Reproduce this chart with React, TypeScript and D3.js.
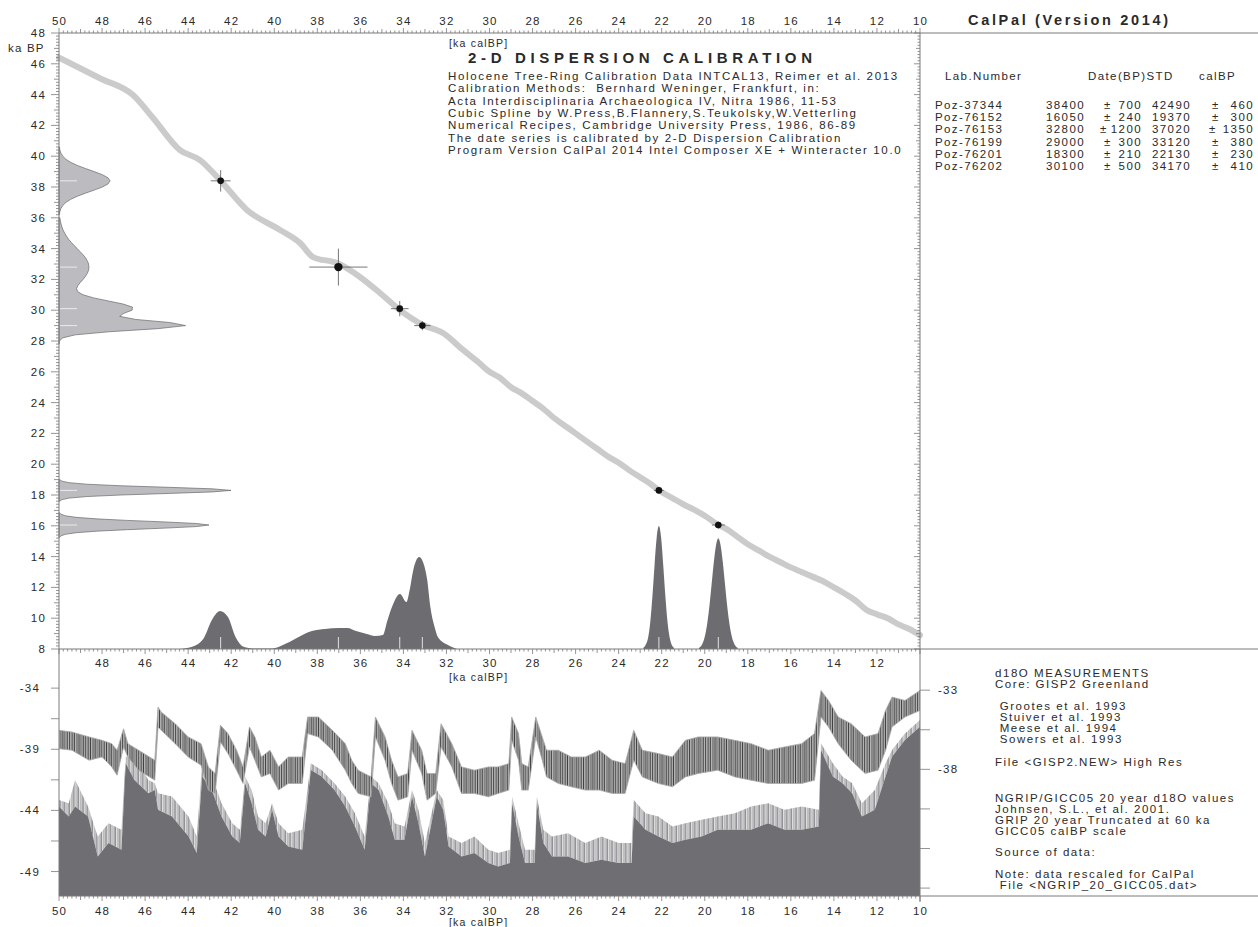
import React from "react";
import * as d3 from "d3";

// radiocarbon dates (table on the right)
const labNumbers = ["Poz-37344", "Poz-76152", "Poz-76153", "Poz-76199", "Poz-76201", "Poz-76202"];
const c14Dates = [38400, 16050, 32800, 29000, 18300, 30100];
const c14Std = [700, 240, 1200, 300, 210, 500];
const calDates = [42490, 19370, 37020, 33120, 22130, 34170];
const calStd = [460, 300, 1350, 380, 230, 410];

// calibration curve, cal ka vs 14C ka
const curveCal = [50, 48.1, 46.56, 45.63, 44.38, 43.45, 42.52, 41.27, 39.73, 38.8, 38.2, 37.08, 36.02, 35.09, 34.16, 33.09, 32.16, 31.23, 30.5, 30, 29.5, 29, 28.5, 28, 27.5, 27, 26.5, 26, 25.5, 25, 24.5, 24, 23.5, 23, 22.5, 22.13, 21.5, 21, 20.5, 20, 19.37, 19, 18.5, 18, 17.5, 17, 16.5, 16, 15.5, 15, 14.5, 14, 13.5, 13, 12.5, 12, 11.5, 11, 10.5, 10];
const curveC14 = [46.4, 45.06, 43.97, 42.48, 40.4, 39.75, 38.45, 36.51, 35.21, 34.36, 33.45, 33.06, 32.16, 31.12, 30.01, 29.04, 28.52, 27.42, 26.6, 26.0, 25.6, 25.0, 24.6, 24.1, 23.6, 23.0, 22.5, 22.0, 21.5, 21.0, 20.5, 20.1, 19.6, 19.15, 18.7, 18.3, 17.8, 17.4, 17.05, 16.65, 16.05, 15.8, 15.3, 14.8, 14.4, 14.0, 13.65, 13.3, 13.0, 12.7, 12.4, 12.0, 11.6, 11.15, 10.55, 10.25, 10.0, 9.6, 9.3, 8.9];

// 14C probability distributions on the left axis (14C ka, relative density)
const leftAgesA = [40.6, 40.4, 40.2, 40.0, 39.8, 39.6, 39.4, 39.2, 39.0, 38.8, 38.6, 38.4, 38.2, 38.0, 37.8, 37.6, 37.4, 37.2, 37.0, 36.8, 36.6, 36.4, 36.2];
const leftDensA = [0.002, 0.005, 0.011, 0.022, 0.04, 0.068, 0.107, 0.154, 0.205, 0.252, 0.285, 0.297, 0.285, 0.252, 0.205, 0.154, 0.107, 0.068, 0.04, 0.022, 0.011, 0.005, 0.002];
const leftAgesB = [36.0, 35.8, 35.6, 35.4, 35.2, 35.0, 34.8, 34.6, 34.4, 34.2, 34.0, 33.8, 33.6, 33.4, 33.2, 33.0, 32.8, 32.6, 32.4, 32.2, 32.0, 31.8, 31.6, 31.4, 31.2, 31.0, 30.8, 30.6, 30.4, 30.2, 30.0, 29.8, 29.6, 29.4, 29.2, 29.0, 28.8, 28.6, 28.4, 28.2, 28.0, 27.8];
const leftDensB = [0.005, 0.008, 0.012, 0.017, 0.024, 0.033, 0.044, 0.056, 0.072, 0.088, 0.106, 0.123, 0.14, 0.154, 0.165, 0.172, 0.174, 0.172, 0.165, 0.154, 0.14, 0.124, 0.11, 0.102, 0.109, 0.14, 0.201, 0.287, 0.373, 0.427, 0.425, 0.377, 0.353, 0.447, 0.644, 0.736, 0.573, 0.291, 0.095, 0.02, 0.003, 0];
const leftAgesC = [19.0, 18.9, 18.8, 18.7, 18.6, 18.5, 18.4, 18.3, 18.2, 18.1, 18.0, 17.9, 17.8, 17.7, 17.6];
const leftDensC = [0.004, 0.017, 0.059, 0.163, 0.36, 0.635, 0.893, 1.0, 0.893, 0.635, 0.36, 0.163, 0.059, 0.017, 0.004];
const leftAgesD = [16.85, 16.75, 16.65, 16.55, 16.45, 16.35, 16.25, 16.15, 16.05, 15.95, 15.85, 15.75, 15.65, 15.55, 15.45, 15.35, 15.25];
const leftDensD = [0.003, 0.012, 0.038, 0.099, 0.217, 0.399, 0.616, 0.799, 0.872, 0.799, 0.616, 0.399, 0.217, 0.099, 0.038, 0.012, 0.003];

// calibrated probability (cal ka, relative density) along the bottom of the upper panel
const calAgesA = [44.4, 43.85, 43.3, 42.87, 42.52, 42.15, 41.8, 41.4, 41.0, 40.1, 39.5, 39.04, 38.6, 38.25, 37.64, 37.0, 36.6, 36.2, 35.7, 35.32, 34.95, 34.75, 34.53, 34.16, 33.86, 33.7, 33.55, 33.27, 33.09, 32.9, 32.74, 32.55, 32.4, 31.93, 31.5];
const calProbA = [0, 0.016, 0.081, 0.244, 0.309, 0.26, 0.098, 0.016, 0.004, 0.004, 0.04, 0.081, 0.122, 0.146, 0.163, 0.171, 0.171, 0.146, 0.122, 0.106, 0.114, 0.228, 0.341, 0.447, 0.382, 0.488, 0.634, 0.748, 0.707, 0.569, 0.333, 0.179, 0.098, 0.033, 0];
const calAgesB = [22.85, 22.75, 22.63, 22.53, 22.43, 22.33, 22.23, 22.13, 22.03, 21.93, 21.83, 21.73, 21.63, 21.53, 21.43];
const calProbB = [0.01, 0.033, 0.094, 0.22, 0.43, 0.685, 0.91, 1.0, 0.91, 0.685, 0.43, 0.22, 0.094, 0.033, 0.01];
const calAgesC = [20.27, 20.17, 20.07, 19.97, 19.87, 19.77, 19.67, 19.57, 19.47, 19.37, 19.27, 19.17, 19.07, 18.97, 18.87, 18.77, 18.67, 18.57, 18.47];
const calProbC = [0.01, 0.025, 0.059, 0.122, 0.225, 0.37, 0.546, 0.72, 0.85, 0.9, 0.85, 0.72, 0.546, 0.37, 0.225, 0.122, 0.059, 0.025, 0.01];

// GISP2 d18O (left axis of lower panel): band envelope
const gispAge = [50.0, 49.4, 48.6, 48.0, 47.55, 47.3, 47.0, 46.8, 46.3, 45.55, 45.4, 45.25, 44.6, 44.0, 43.4, 43.06, 42.75, 42.5, 42.15, 41.75, 41.45, 41.15, 40.9, 40.6, 40.2, 39.8, 39.35, 38.7, 38.45, 37.95, 37.3, 36.7, 36.4, 36.1, 35.5, 35.3, 34.85, 34.55, 34.25, 33.8, 33.6, 33.15, 32.9, 32.5, 32.25, 31.75, 31.3, 30.7, 30.05, 29.6, 29.1, 28.97, 28.65, 28.5, 28.2, 27.85, 27.55, 27.35, 26.8, 26.2, 25.55, 24.9, 24.3, 23.7, 23.3, 22.9, 22.15, 21.5, 20.9, 20.3, 19.4, 18.6, 17.85, 17.05, 16.3, 15.5, 14.9, 14.6, 14.25, 13.8, 13.2, 12.55, 11.95, 11.6, 11.3, 10.7, 10.0];
const gispHi = [-37.45, -37.59, -37.99, -38.27, -38.54, -39.08, -37.32, -38.54, -39.08, -39.9, -35.55, -35.96, -36.91, -37.99, -38.54, -40.44, -40.98, -37.04, -37.72, -39.08, -40.44, -37.18, -37.99, -39.63, -39.08, -40.44, -39.63, -39.63, -36.36, -36.36, -37.45, -38.54, -39.9, -40.71, -41.26, -36.36, -37.99, -39.9, -41.26, -40.98, -37.45, -39.08, -40.98, -40.98, -36.91, -38.54, -40.44, -40.71, -40.44, -40.44, -40.17, -36.36, -37.72, -40.17, -40.44, -36.36, -37.99, -39.08, -39.08, -39.63, -39.63, -39.08, -39.9, -40.17, -37.45, -39.08, -39.35, -39.63, -38.27, -37.99, -37.99, -38.27, -38.54, -39.08, -38.81, -38.54, -37.72, -34.19, -35.01, -36.36, -36.91, -37.99, -37.72, -35.82, -34.73, -35.01, -34.19];
const gispLo = [-38.95, -39.08, -39.9, -39.63, -40.44, -41.12, -38.81, -39.63, -40.71, -41.53, -37.18, -37.45, -38.54, -39.63, -40.3, -42.34, -42.61, -38.4, -39.35, -40.71, -41.8, -38.81, -39.9, -41.26, -40.98, -42.34, -41.8, -41.8, -37.72, -37.99, -39.08, -40.71, -41.8, -42.61, -42.89, -37.99, -39.9, -41.8, -43.16, -42.89, -39.08, -40.98, -43.16, -42.61, -38.81, -40.44, -42.61, -42.61, -42.89, -42.61, -42.34, -38.27, -39.9, -42.34, -42.34, -37.99, -39.9, -41.26, -41.8, -42.07, -42.34, -42.34, -42.61, -42.61, -39.9, -41.26, -41.8, -42.07, -41.26, -40.98, -40.71, -41.26, -41.53, -41.8, -41.8, -41.8, -41.53, -36.36, -37.18, -38.54, -39.9, -40.98, -40.71, -39.08, -37.18, -36.36, -35.82];

// NGRIP/GICC05 d18O (right axis of lower panel): solid top and spike tips
const ngripAge = [50.0, 49.55, 49.25, 48.65, 48.2, 47.7, 47.1, 46.9, 46.5, 45.85, 45.55, 45.4, 44.75, 43.98, 43.6, 43.35, 42.9, 42.45, 41.95, 41.6, 41.35, 41.05, 40.75, 40.4, 40.1, 39.8, 39.35, 38.7, 38.3, 37.8, 37.2, 36.7, 36.25, 35.8, 35.5, 35.15, 34.7, 34.4, 33.95, 33.6, 33.3, 33.0, 32.45, 32.15, 31.9, 31.3, 30.7, 30.05, 29.6, 29.05, 28.95, 28.65, 28.35, 27.9, 27.8, 27.5, 27.1, 26.35, 25.55, 24.8, 24.0, 23.4, 23.3, 22.75, 22.15, 21.5, 20.9, 20.15, 19.4, 18.6, 17.85, 17.05, 16.3, 15.5, 14.7, 14.6, 14.05, 13.6, 13.15, 12.7, 12.1, 11.6, 11.3, 10.7, 10.0];
const ngripLo = [-40.35, -40.98, -40.35, -40.98, -43.5, -42.66, -43.08, -37.62, -38.67, -39.51, -39.3, -40.56, -40.98, -42.24, -43.29, -38.46, -39.3, -40.98, -42.24, -42.66, -38.88, -40.14, -41.82, -42.24, -40.56, -42.24, -42.87, -43.08, -38.04, -38.46, -39.3, -40.35, -41.61, -43.08, -38.88, -39.3, -40.98, -42.45, -42.45, -39.72, -41.4, -43.5, -39.72, -40.56, -42.87, -43.5, -43.29, -43.92, -44.13, -43.92, -40.14, -42.24, -43.92, -43.92, -40.14, -42.66, -43.5, -43.5, -43.92, -43.71, -43.92, -43.92, -40.98, -41.82, -42.24, -42.66, -42.45, -42.24, -41.82, -41.82, -41.82, -41.4, -41.82, -41.82, -41.61, -36.78, -38.46, -38.88, -39.51, -40.98, -40.56, -38.46, -37.2, -36.15, -35.31];
const ngripHi = [-39.93, -40.14, -38.67, -40.35, -42.24, -41.4, -41.82, -37.2, -37.2, -38.67, -38.88, -39.51, -39.72, -40.98, -42.24, -37.62, -38.46, -40.14, -41.4, -41.82, -38.46, -39.3, -40.98, -41.4, -40.14, -41.4, -42.03, -41.82, -37.62, -38.04, -38.88, -39.72, -40.77, -42.24, -38.46, -38.88, -40.14, -41.4, -41.61, -39.3, -40.56, -42.66, -39.3, -39.93, -42.24, -42.66, -42.24, -43.08, -43.29, -43.08, -39.72, -41.4, -43.08, -43.08, -39.72, -41.82, -42.24, -42.03, -42.66, -42.24, -42.66, -42.66, -39.93, -40.77, -40.98, -41.61, -41.4, -41.19, -40.98, -40.77, -40.35, -40.14, -40.56, -40.35, -40.56, -36.36, -37.62, -38.46, -38.88, -40.14, -39.3, -37.62, -36.78, -35.73, -34.89];

// axis labels
const calTickLabels = [50, 48, 46, 44, 42, 40, 38, 36, 34, 32, 30, 28, 26, 24, 22, 20, 18, 16, 14, 12, 10];
const c14TickLabels = [48, 46, 44, 42, 40, 38, 36, 34, 32, 30, 28, 26, 24, 22, 20, 18, 16, 14, 12, 10, 8];
const gispTicks = [-34, -36.5, -39, -41.5, -44, -46.5, -49];
const gispLabels = [-34, -39, -44, -49];
const ngripTicks = [-33, -35.5, -38, -40.5, -43, -45.5];
const ngripLabels = [-33, -38];

const legendLines = [
  "Holocene Tree-Ring Calibration Data INTCAL13, Reimer et al. 2013",
  "Calibration Methods:  Bernhard Weninger, Frankfurt, in:",
  "Acta Interdisciplinaria Archaeologica IV, Nitra 1986, 11-53",
  "Cubic Spline by W.Press,B.Flannery,S.Teukolsky,W.Vetterling",
  "Numerical Recipes, Cambridge University Press, 1986, 86-89",
  "The date series is calibrated by 2-D Dispersion Calibration",
  "Program Version CalPal 2014 Intel Composer XE + Winteracter 10.0",
];
const noteLines: [string, number][] = [
  ["d18O MEASUREMENTS", 677],
  ["Core: GISP2 Greenland", 688],
  [" Grootes et al. 1993", 710],
  [" Stuiver et al. 1993", 721],
  [" Meese et al. 1994", 732],
  [" Sowers et al. 1993", 743],
  ["File <GISP2.NEW> High Res", 766],
  ["NGRIP/GICC05 20 year d18O values", 802],
  ["Johnsen, S.L., et al. 2001.", 813],
  ["GRIP 20 year Truncated at 60 ka", 824],
  ["GICC05 calBP scale", 835],
  ["Source of data:", 856],
  ["Note: data rescaled for CalPal", 878],
  [" File <NGRIP_20_GICC05.dat>", 889],
];

const X0 = 59, X1 = 920, YT = 33, YM = 649, YB = 896;
const FONT = "'Liberation Sans', Arial, sans-serif";
const AXIS = "#7a7a7a";
const TXT = "#2a2a2a";

export default function App() {
  const x = d3.scaleLinear().domain([50, 10]).range([X0, X1]);
  const yC = d3.scaleLinear().domain([48, 8]).range([YT, YM]);
  const yG = d3.scaleLinear().domain([-30.8, -51]).range([YM, YB]);
  const yN = d3.scaleLinear().domain([-30.4, -46]).range([YM, YB]);
  const dL = d3.scaleLinear().domain([0, 1]).range([X0, X0 + 172]);
  const dB = d3.scaleLinear().domain([0, 1]).range([YM, YM - 123]);

  const leftArea = (ages: number[]) =>
    d3.area<number>().y((d, i) => yC(ages[i])).x0(X0).x1((d) => dL(d));
  const calArea = (ages: number[]) =>
    d3.area<number>().x((d, i) => x(ages[i])).y0(YM).y1((d) => dB(d)).curve(d3.curveMonotoneX);

  const curve = d3.line<number>().x((d) => x(d)).y((d, i) => yC(curveC14[i])).curve(d3.curveMonotoneX);
  const gispBand = d3.area<number>().x((d) => x(d)).y0((d, i) => yG(gispLo[i])).y1((d, i) => yG(gispHi[i]));
  const ngripSolid = d3.area<number>().x((d) => x(d)).y0(YB).y1((d, i) => yN(ngripLo[i]));
  const ngripTips = d3.area<number>().x((d) => x(d)).y0((d, i) => yN(ngripLo[i])).y1((d, i) => yN(ngripHi[i]));

  const calMinor = d3.range(0, 201).map((i) => 50 - i * 0.2);
  const c14Minor = d3.range(0, 201).map((i) => 48 - i * 0.2);
  const len = (v: number, a: number, b: number, c: number) => {
    const r = Math.round(v * 10) / 10;
    if (Math.abs(r % 2) < 1e-6) return a;
    if (Math.abs(r % 1) < 1e-6) return b;
    return c;
  };

  const txt = { fontFamily: FONT, fill: TXT } as const;

  return (
    <svg width={1258} height={927} style={{ position: "absolute", left: 0, top: 0, background: "#fff" }}>
      <defs>
        <clipPath id="lowClip">
          <rect x={X0} y={YM} width={X1 - X0} height={YB - YM} />
        </clipPath>
        {/* texture for the dense d18O traces */}
        <pattern id="gispHatch" patternUnits="userSpaceOnUse" width={5.3} height={6}>
          <rect width={5.3} height={6} fill="#bababa" />
          <rect x={0} width={0.8} height={6} fill="#2e2e2e" />
          <rect x={1.9} width={0.6} height={6} fill="#6a6a6a" />
          <rect x={3.3} width={0.9} height={6} fill="#3c3c3c" />
        </pattern>
        <pattern id="ngripHatch" patternUnits="userSpaceOnUse" width={4.6} height={6}>
          <rect width={4.6} height={6} fill="#ececec" />
          <rect x={0} width={1} height={6} fill="#8e8e92" />
          <rect x={2.1} width={0.7} height={6} fill="#a9a9ac" />
          <rect x={3.4} width={0.8} height={6} fill="#7e7e82" />
        </pattern>
      </defs>

      {/* lower panel: NGRIP fill and GISP2 band */}
      <g clipPath="url(#lowClip)">
        <path d={ngripTips(ngripAge) ?? ""} fill="url(#ngripHatch)" />
        <path d={ngripSolid(ngripAge) ?? ""} fill="#6f6f73" />
        <path d={gispBand(gispAge) ?? ""} fill="url(#gispHatch)" stroke="#a8a8a8" strokeWidth={0.8} />
      </g>

      {/* calibrated distributions */}
      {[[calAgesA, calProbA], [calAgesB, calProbB], [calAgesC, calProbC]].map(([ages, vals], k) => (
        <path key={"cal" + k} d={calArea(ages)(vals) ?? ""} fill="#6d6d71" />
      ))}
      {calDates.map((c, i) => (
        <line key={"cm" + i} x1={x(c / 1000)} x2={x(c / 1000)} y1={YM} y2={YM - 12} stroke="#fff" strokeWidth={1} opacity={0.8} />
      ))}

      {/* 14C distributions on the left axis */}
      {[[leftAgesA, leftDensA], [leftAgesB, leftDensB], [leftAgesC, leftDensC], [leftAgesD, leftDensD]].map(([ages, vals], k) => (
        <path key={"l" + k} d={leftArea(ages)(vals) ?? ""} fill="#bcbcc0" stroke="#6a6a6a" strokeWidth={0.7} />
      ))}
      {c14Dates.map((c, i) => (
        <line key={"lm" + i} x1={X0 + 1} x2={X0 + 18} y1={yC(c / 1000)} y2={yC(c / 1000)} stroke="#fff" strokeWidth={1} opacity={0.7} />
      ))}

      {/* calibration curve */}
      <path d={curve(curveCal) ?? ""} fill="none" stroke="#cbcbcb" strokeWidth={6} strokeLinejoin="round" strokeLinecap="round" />

      {/* dates with error crosses */}
      {calDates.map((c, i) => {
        const cx = x(c / 1000);
        const cy = yC(c14Dates[i] / 1000);
        return (
          <g key={"d" + i}>
            <line x1={x((c - calStd[i]) / 1000)} x2={x((c + calStd[i]) / 1000)} y1={cy} y2={cy} stroke="#555" strokeWidth={0.8} />
            <line x1={cx} x2={cx} y1={yC((c14Dates[i] - c14Std[i]) / 1000)} y2={yC((c14Dates[i] + c14Std[i]) / 1000)} stroke="#555" strokeWidth={0.8} />
            <circle cx={cx} cy={cy} r={c14Std[i] >= 1000 ? 4.2 : 3.3} fill="#111" />
          </g>
        );
      })}

      {/* frame lines */}
      <g stroke={AXIS} strokeWidth={1} fill="none">
        <line x1={X0} x2={1258} y1={YT} y2={YT} />
        <line x1={X0} x2={1258} y1={YM} y2={YM} />
        <line x1={X0} x2={1258} y1={YB} y2={YB} />
        <line x1={X0} x2={X0} y1={YT} y2={YB} />
        <line x1={X1} x2={X1} y1={YT} y2={YB + 6} />
      </g>

      {/* cal ticks: top (outward), middle (down), bottom (down) */}
      <g stroke={AXIS} strokeWidth={0.8}>
        {calMinor.map((v, i) => {
          const px = x(v);
          return (
            <g key={"ct" + i}>
              <line x1={px} x2={px} y1={YT} y2={YT - len(v, 5, 4, 2.5)} />
              <line x1={px} x2={px} y1={YM} y2={YM + len(v, 5, 4, 2.5)} />
              <line x1={px} x2={px} y1={YB} y2={YB + len(v, 5, 4, 2.5)} />
            </g>
          );
        })}
        {c14Minor.map((v, i) => {
          const py = yC(v);
          return (
            <g key={"yt" + i}>
              <line x1={X0} x2={X0 - len(v, 8, 5, 3)} y1={py} y2={py} />
              <line x1={X1} x2={X1 - len(v, 6, 4, 2.5)} y1={py} y2={py} />
            </g>
          );
        })}
        {gispTicks.map((v) => (
          <line key={"gt" + v} x1={X0} x2={X0 - 8} y1={yG(v)} y2={yG(v)} />
        ))}
        {ngripTicks.map((v) => (
          <line key={"nt" + v} x1={X1} x2={X1 + 10} y1={yN(v)} y2={yN(v)} />
        ))}
      </g>

      {/* axis labels */}
      <g {...txt} fontSize={11.5} letterSpacing={1.2} textAnchor="middle">
        {calTickLabels.map((v) => (
          <text key={"tl" + v} x={x(v) + 0.5} y={25}>{v}</text>
        ))}
        {calTickLabels.filter((v) => v !== 50 && v !== 10).map((v) => (
          <text key={"ml" + v} x={x(v) + 0.5} y={667}>{v}</text>
        ))}
        {calTickLabels.map((v) => (
          <text key={"bl" + v} x={x(v) + 0.5} y={915}>{v}</text>
        ))}
      </g>
      <g {...txt} fontSize={11.5} letterSpacing={1.2} textAnchor="end">
        {c14TickLabels.map((v) => (
          <text key={"yl" + v} x={46} y={yC(v) + 4}>{v}</text>
        ))}
        {gispLabels.map((v) => (
          <text key={"gl" + v} x={40} y={yG(v) + 4}>{v}</text>
        ))}
      </g>
      <g {...txt} fontSize={11.5} letterSpacing={1.2}>
        {ngripLabels.map((v) => (
          <text key={"nl" + v} x={938} y={yN(v) + 4}>{v}</text>
        ))}
        <text x={8} y={52}>ka BP</text>
        <text x={449} y={47} fontSize={10.5}>[ka calBP]</text>
        <text x={449} y={681} fontSize={10.5}>[ka calBP]</text>
        <text x={449} y={926} fontSize={10.5}>[ka calBP]</text>
      </g>

      {/* title and legend */}
      <text {...txt} x={468} y={63} fontSize={15} fontWeight="bold" textLength={344} lengthAdjust="spacing">
        2-D DISPERSION CALIBRATION
      </text>
      <g {...txt} fontSize={11.5} letterSpacing={1.65}>
        {legendLines.map((s, i) => (
          <text key={"lg" + i} x={448} y={80 + i * 12.3} style={{ whiteSpace: "pre" }}>{s}</text>
        ))}
      </g>

      {/* right panel */}
      <text {...txt} x={968} y={25} fontSize={14.5} fontWeight="bold" textLength={200} lengthAdjust="spacing">
        CalPal (Version 2014)
      </text>
      <g {...txt} fontSize={11.5} letterSpacing={1.4}>
        <text x={945} y={80}>Lab.Number</text>
        <text x={1088} y={80}>Date(BP)STD</text>
        <text x={1199} y={80}>calBP</text>
        {labNumbers.map((lab, i) => {
          const yy = 109 + i * 12.2;
          return (
            <g key={"r" + i}>
              <text x={935} y={yy}>{lab}</text>
              <text x={1085} y={yy} textAnchor="end">{c14Dates[i]}</text>
              <text x={c14Std[i] >= 1000 ? 1100 : 1104} y={yy}>±</text>
              <text x={1142} y={yy} textAnchor="end">{c14Std[i]}</text>
              <text x={1191} y={yy} textAnchor="end">{calDates[i]}</text>
              <text x={calStd[i] >= 1000 ? 1209 : 1212} y={yy}>±</text>
              <text x={1254} y={yy} textAnchor="end">{calStd[i]}</text>
            </g>
          );
        })}
      </g>
      <g {...txt} fontSize={11.5} letterSpacing={1.55}>
        {noteLines.map(([s, yy], i) => (
          <text key={"n" + i} x={995} y={yy} style={{ whiteSpace: "pre" }}>{s}</text>
        ))}
      </g>
    </svg>
  );
}
